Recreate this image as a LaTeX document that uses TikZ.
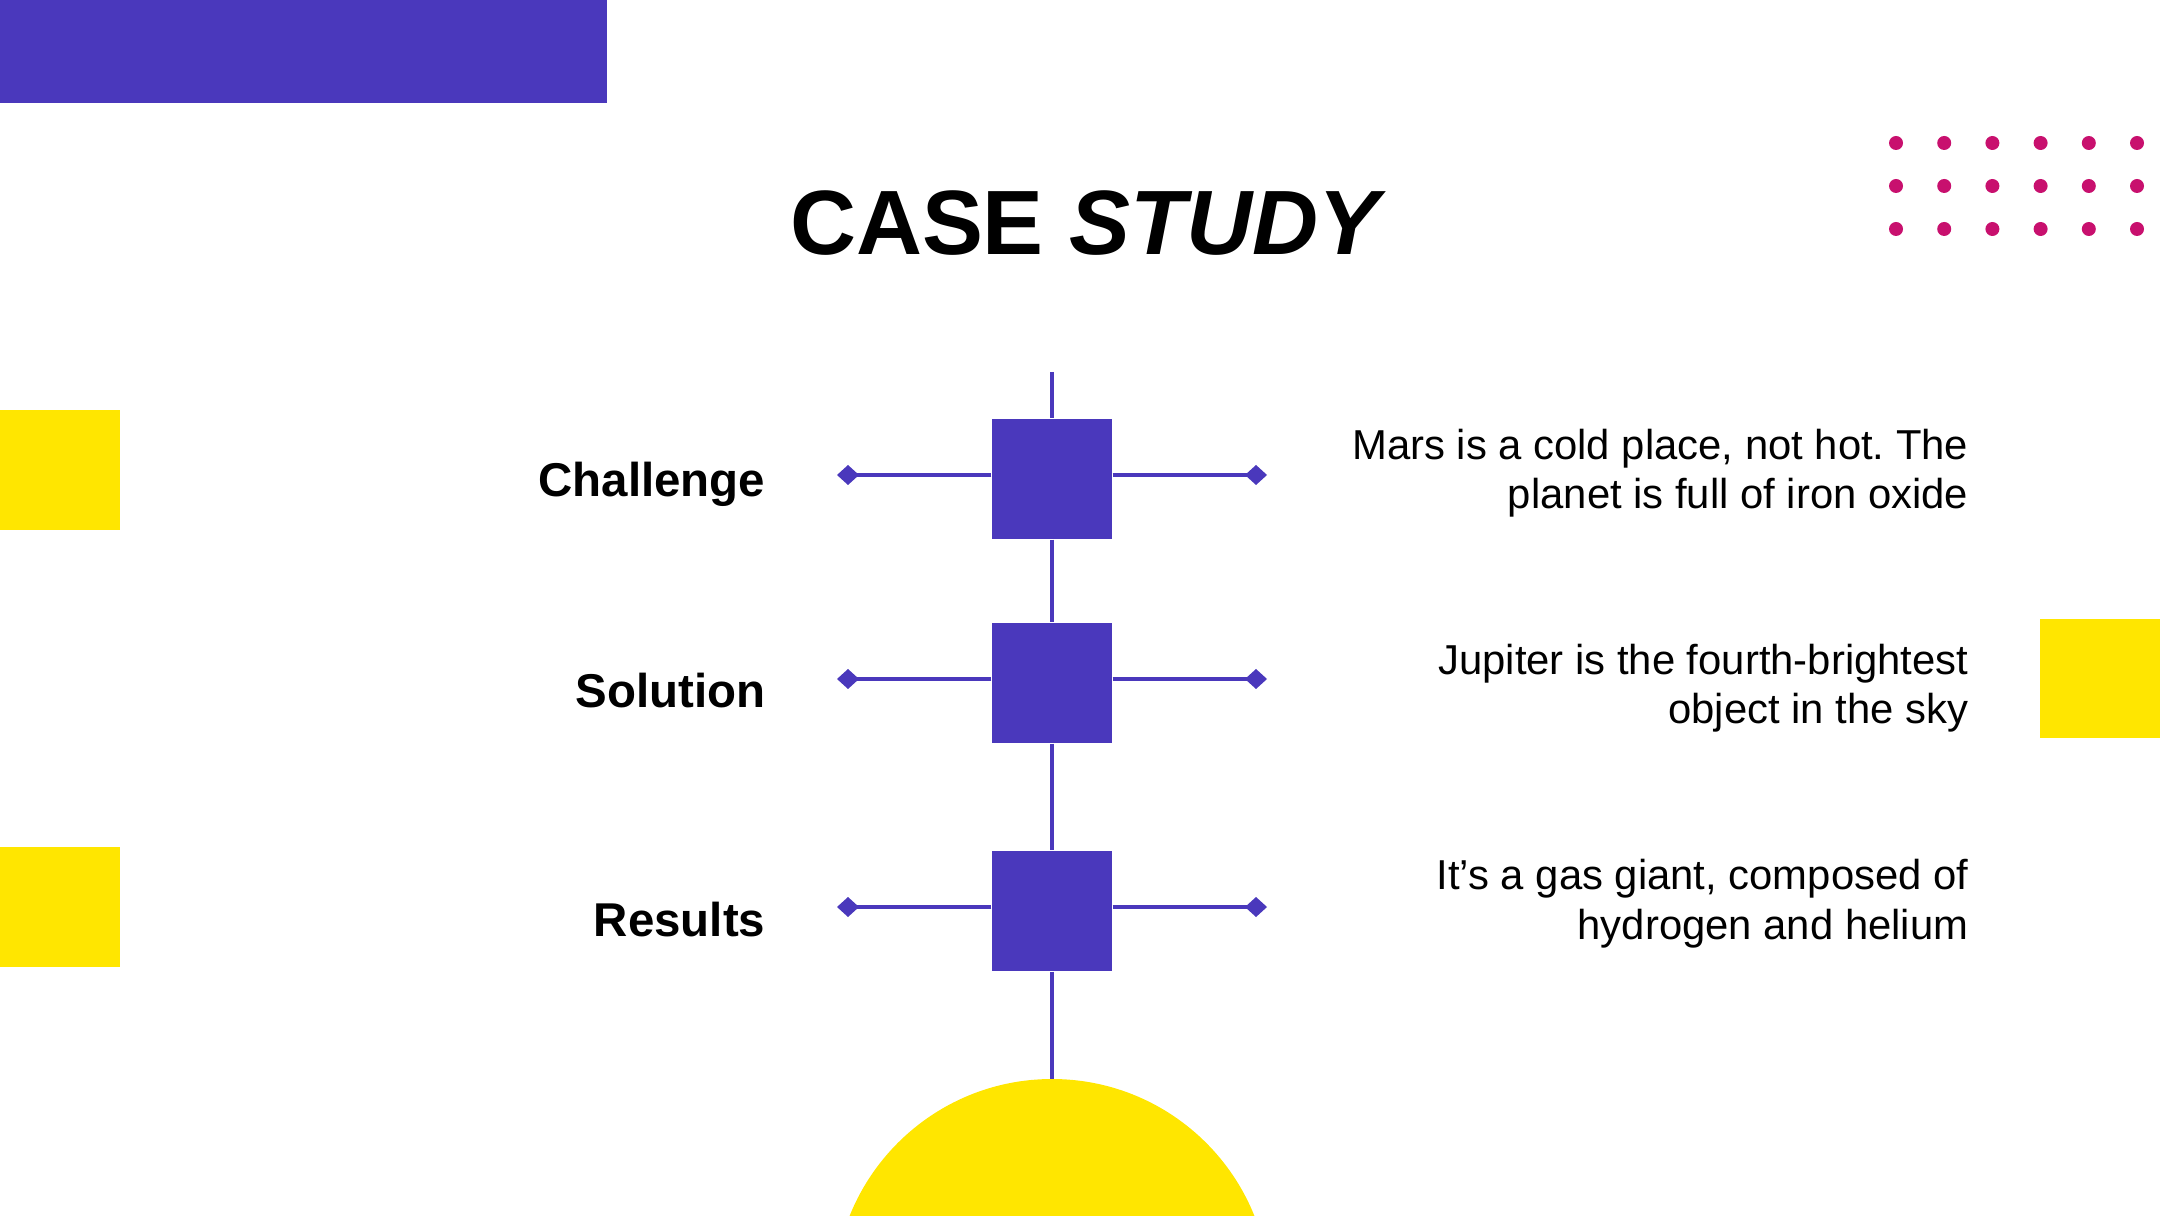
\documentclass[tikz,border=0pt]{standalone}
\usepackage{fontspec}
\setmainfont{Liberation Sans}
\usepackage{xcolor}
\usetikzlibrary{arrows.meta, positioning}
\definecolor{morado}{RGB}{74,56,188}
\definecolor{amarillo}{RGB}{255,230,0}
\definecolor{puntos}{RGB}{200,16,110}
\frenchspacing

\begin{document}
\begin{tikzpicture}[
    caja/.style={fill=morado, minimum size=1.2cm, inner sep=0pt},
    linea/.style={morado, line width=1.2pt},
    punta/.style={-{Diamond[length=0.22cm, width=0.2cm]}},
    etiqueta/.style={font=\fontsize{13.5}{16}\selectfont\bfseries, anchor=base east, inner sep=0pt},
    texto/.style={font=\fontsize{11.9}{14.2}\selectfont, align=right, anchor=base east, inner sep=0pt}]
    \clip (0,0) rectangle (21.6,12.15);

    % Decoraciones
    \fill[morado] (0,11.12) rectangle (6.07,12.15);
    \fill[amarillo] (0,6.85) rectangle (1.20,8.05);
    \fill[amarillo] (0,2.48) rectangle (1.20,3.68);
    \fill[amarillo] (20.40,4.77) rectangle (21.6,5.96);
    \fill[amarillo] (10.52,-0.82) circle (2.18);
    \foreach \i in {0,...,5}
        \foreach \y in {10.72,10.29,9.86}
            \fill[puntos] (18.96+0.482*\i,\y) circle (0.07);

    % Titulo
    \node[font=\fontsize{26}{30}\selectfont\bfseries, anchor=base] (titulo) at (10.88,9.60) {CASE \textit{STUDY}};

    % Cajas y etiquetas
    \coordinate (arriba) at (10.52,8.43);
    \coordinate (abajo) at (10.52,1.36);
    \foreach \n/\y/\dy in {1/7.36/0.18, 2/5.32/0.25, 3/3.04/0.25} {
        \node[caja] (c\n) at (10.52,\y) {};
        \coordinate (izq\n) at (8.37,\y+0.04);
        \coordinate (der\n) at (12.67,\y+0.04);
        \draw[linea, punta] (c\n.west |- izq\n) -- (izq\n);
        \draw[linea, punta] (c\n.east |- der\n) -- (der\n);
        \coordinate (pe\n) at (7.66,\y-\dy);
    }
    \node[etiqueta] (et1) at (pe1) {Challenge};
    \node[etiqueta] (et2) at (pe2) {Solution};
    \node[etiqueta] (et3) at (pe3) {Results};

    % Linea vertical
    \draw[linea] (arriba) -- (c1.north);
    \draw[linea] (c1.south) -- (c2.north);
    \draw[linea] (c2.south) -- (c3.north);
    \draw[linea] (c3.south) -- (abajo);

    % Textos
    \node[texto] (t1) at (19.69,7.06) {Mars is a cold place, not hot. The\\planet is full of iron oxide};
    \node[texto] (t2) at (19.69,4.91) {Jupiter is the fourth-brightest\\object in the sky};
    \node[texto] (t3) at (19.69,2.76) {It’s a gas giant, composed of\\hydrogen and helium};
\end{tikzpicture}
\end{document}
